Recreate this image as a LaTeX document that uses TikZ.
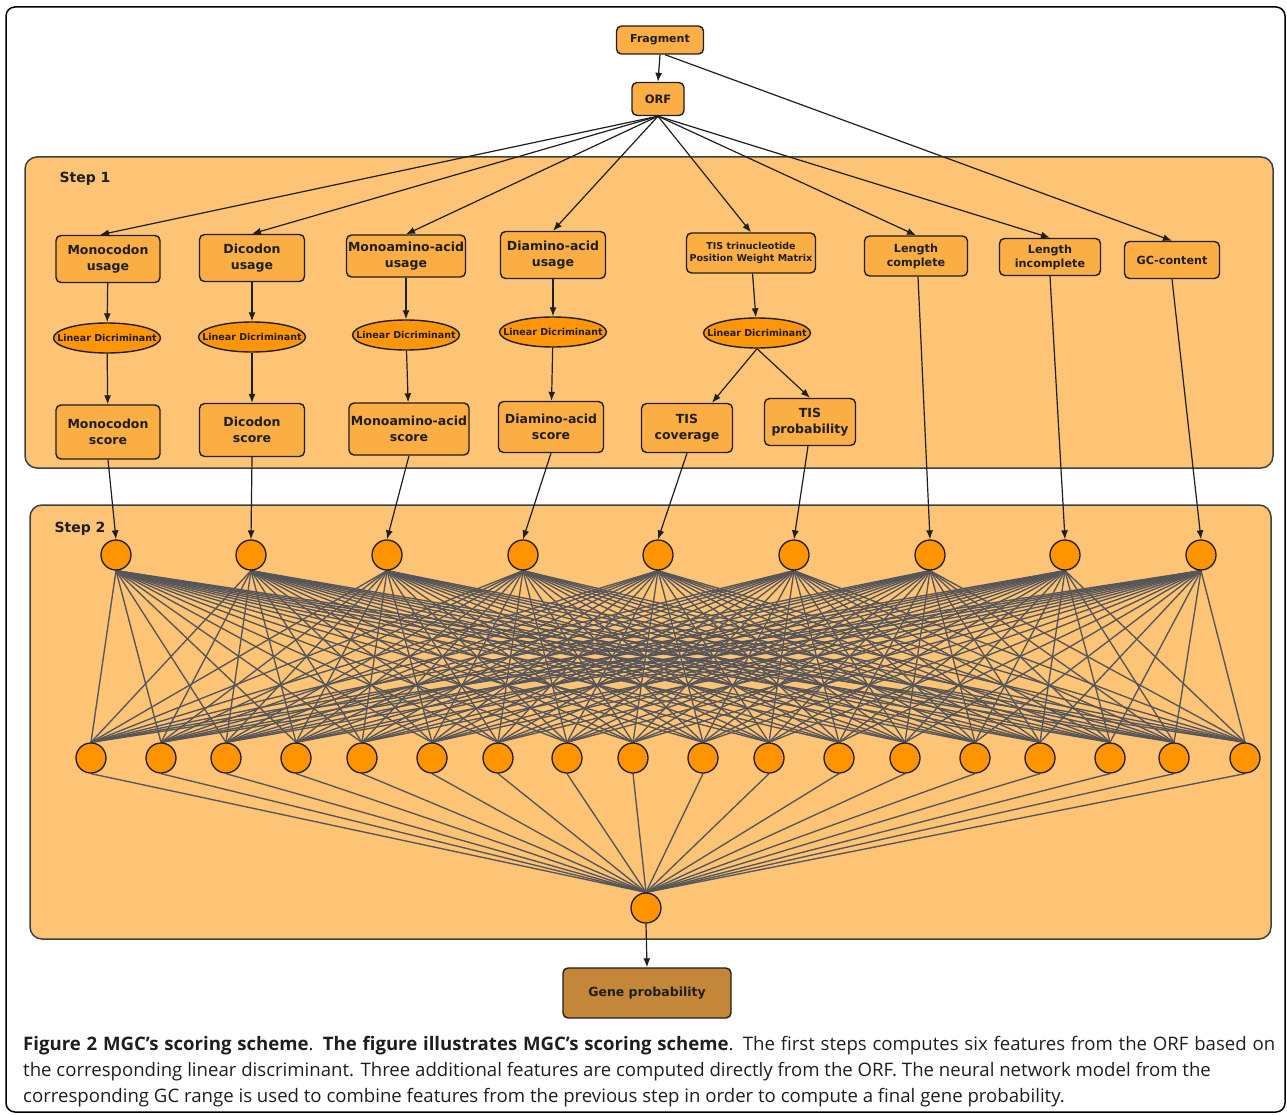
\documentclass[tikz,border=0pt]{standalone}
\usepackage{fontspec}
\setmainfont{DejaVu Sans}
\newfontfamily\capfont{Open Sans}
\usetikzlibrary{arrows.meta,shapes.geometric}
\pgfdeclarelayer{bg}
\pgfsetlayers{bg,main}

\definecolor{stepfill}{RGB}{254,196,118}
\definecolor{boxfill}{RGB}{251,174,68}
\definecolor{discfill}{RGB}{255,150,10}
\definecolor{cellfill}{RGB}{255,148,0}
\definecolor{genefill}{RGB}{196,135,58}
\definecolor{edgegray}{RGB}{85,85,90}
\definecolor{ink}{RGB}{30,30,30}

\tikzset{
  box/.style={draw=ink, line width=1.4pt, fill=boxfill, rounded corners=5pt, inner sep=0pt,
    align=center, text=ink, font=\bfseries\fontsize{12.5}{15.5}\selectfont},
  disc/.style={ellipse, draw=ink, line width=1.4pt, fill=discfill, inner sep=0pt,
    minimum width=107pt, minimum height=30pt, text=ink, font=\bfseries\fontsize{9.5}{11}\selectfont},
  neuron/.style={circle, draw=ink, line width=1.3pt, fill=cellfill, minimum size=30pt, inner sep=0pt},
  stepbox/.style={draw=ink!85, line width=1.5pt, fill=stepfill, rounded corners=12pt},
  steplabel/.style={anchor=west, text=ink, font=\bfseries\fontsize{14}{16}\selectfont},
  arr/.style={draw=ink, line width=1.2pt, -{Latex[length=9pt,width=7pt]}},
  netline/.style={draw=edgegray, line width=1.35pt},
}

\begin{document}
\begin{tikzpicture}[x=1pt,y=-1pt]
	\useasboundingbox (0,0) rectangle (1287,1115);
	
	% Outer frame
	\draw[line width=1.5pt, rounded corners=9pt] (6,7) rectangle (1285,1112);
	
	% Step panels
	\begin{pgfonlayer}{bg}
		\draw[stepbox] (25,157) rectangle (1273,468);
		\draw[stepbox] (30,505) rectangle (1271,939);
	\end{pgfonlayer}
	\node[steplabel] (s1) at (56,179) {Step 1};
	\node[steplabel] (s2) at (51,529) {Step 2};
	
	% Input nodes
	\node[box, minimum width=87pt, minimum height=28pt, font=\bfseries\fontsize{11}{13}\selectfont] (frag) at (660,40) {Fragment};
	\node[box, minimum width=52pt, minimum height=33pt, font=\bfseries\fontsize{11.5}{13}\selectfont] (orf) at (658,99) {ORF};
	
	% Feature nodes
	\node[box, minimum width=104pt, minimum height=47pt] (mcu) at (108,259) {Monocodon\\usage};
	\node[box, minimum width=105pt, minimum height=47pt] (dcu) at (252,258) {Dicodon\\usage};
	\node[box, minimum width=119pt, minimum height=42pt] (mau) at (406,256) {Monoamino-acid\\usage};
	\node[box, minimum width=105pt, minimum height=47pt] (dau) at (553,255) {Diamino-acid\\usage};
	\node[box, minimum width=129pt, minimum height=40pt, font=\bfseries\fontsize{9.5}{12.5}\selectfont] (pwm) at (751,253) {TIS trinucleotide\\Position Weight Matrix};
	\node[box, minimum width=103pt, minimum height=40pt, font=\bfseries\fontsize{11.2}{14}\selectfont] (lc) at (916,256) {Length\\complete};
	\node[box, minimum width=101pt, minimum height=37pt, font=\bfseries\fontsize{11.2}{14}\selectfont] (li) at (1050,257) {Length\\incomplete};
	\node[box, minimum width=95pt, minimum height=37pt, font=\bfseries\fontsize{11.2}{14}\selectfont] (gc) at (1172,260) {GC-content};
	
	% Linear discriminants
	\node[disc] (ld1) at (107,338) {\makebox[0pt]{Linear Dicriminant}};
	\node[disc] (ld2) at (252,337) {\makebox[0pt]{Linear Dicriminant}};
	\node[disc] (ld3) at (406,335) {\makebox[0pt]{Linear Dicriminant}};
	\node[disc] (ld4) at (553,332) {\makebox[0pt]{Linear Dicriminant}};
	\node[disc] (ld5) at (757,333) {\makebox[0pt]{Linear Dicriminant}};
	
	% Scores
	\node[box, minimum width=104pt, minimum height=54pt] (mcs) at (108,432) {Monocodon\\score};
	\node[box, minimum width=105pt, minimum height=53pt] (dcs) at (252,430) {Dicodon\\score};
	\node[box, minimum width=120pt, minimum height=52pt] (mas) at (409,429) {Monoamino-acid\\score};
	\node[box, minimum width=105pt, minimum height=51pt] (das) at (551,427) {Diamino-acid\\score};
	\node[box, minimum width=91pt, minimum height=49pt] (tisc) at (687,428) {TIS\\coverage};
	\node[box, minimum width=91pt, minimum height=47pt] (tisp) at (810,422) {TIS\\probability};
	
	% Step 1 connectors
	\draw[arr] (frag.south) -- (orf.north);
	\draw[arr] ([xshift=5pt]frag.south) -- (gc.north);
	\draw[arr] (orf.south) -- ([xshift=-8pt]mcu.north);
	\foreach \t in {dcu,mau,dau,pwm,lc,li}
		\draw[arr] (orf.south) -- (\t.north);
	\draw[arr] (mcu) -- (ld1);
	\draw[arr] (dcu) -- (ld2);
	\draw[arr] (mau) -- (ld3);
	\draw[arr] (dau) -- (ld4);
	\draw[arr] (pwm) -- (ld5);
	\draw[arr] (ld1) -- (mcs);
	\draw[arr] (ld2) -- (dcs);
	\draw[arr] (ld3) -- (mas);
	\draw[arr] (ld4) -- (das);
	\draw[arr] (ld5.south) -- ([xshift=25pt]tisc.north);
	\draw[arr] (ld5.south) -- (tisp.north);
	
	% Neural network
	\foreach \x [count=\i] in {116,251,387,523,658,794,930,1065,1201}
		\node[neuron] (in\i) at (\x,555) {};
	\foreach \x [count=\j] in {91,161,226,296,362,432,498,567,633,703,769,839,905,975,1040,1110,1174,1245}
		\node[neuron] (hid\j) at (\x,758) {};
	\node[neuron] (out) at (646,908) {};
	\begin{pgfonlayer}{bg}
		\foreach \i in {1,...,9}
			\foreach \j in {1,...,18}
				\draw[netline] (in\i.south) -- (hid\j.north);
		\foreach \j in {1,...,18}
			\draw[netline] (hid\j.south) -- (out.north);
	\end{pgfonlayer}
	
	% Features into the network
	\draw[arr] (mcs.south) -- (in1.north);
	\draw[arr] (dcs.south) -- (in2.north);
	\draw[arr] (mas.south) -- (in3.north);
	\draw[arr] (das.south) -- (in4.north);
	\draw[arr] (tisc.south) -- (in5.north);
	\draw[arr] ([xshift=-2pt]tisp.south) -- (in6.north);
	\draw[arr] ([xshift=2pt]lc.south) -- (in7.north);
	\draw[arr] (li.south) -- (in8.north);
	\draw[arr] (gc.south) -- (in9.north);
	
	% Output
	\node[box, fill=genefill, minimum width=168pt, minimum height=50pt] (gene) at (647,993) {Gene probability};
	\draw[arr] (out.south) -- (gene.north);
	
	% Caption
	\node[anchor=north west, align=left, inner sep=0pt, text=ink, font=\capfont\fontsize{18.6}{26}\selectfont] (cap) at (23,1036)
		{\makebox[1252pt][s]{\textbf{Figure 2 MGC’s scoring scheme}. \textbf{The figure illustrates MGC’s scoring scheme}. The first steps computes six features from the ORF based on}\\
		the corresponding linear discriminant. Three additional features are computed directly from the ORF. The neural network model from the\\
		corresponding GC range is used to combine features from the previous step in order to compute a final gene probability.};
\end{tikzpicture}
\end{document}
